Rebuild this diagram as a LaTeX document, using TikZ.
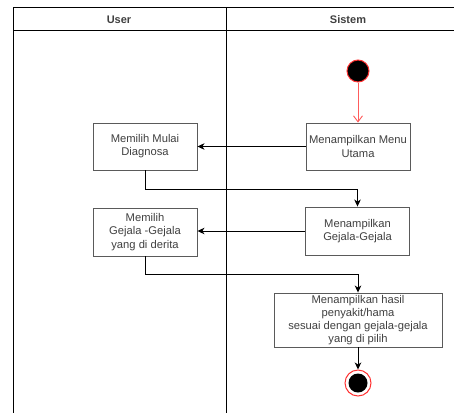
\documentclass[tikz,border=0pt]{standalone}
\usepackage{fontspec}
\setmainfont{Liberation Sans}
\usetikzlibrary{positioning,arrows.meta}

\definecolor{boxline}{HTML}{5A5A5A}
\definecolor{startred}{HTML}{FF3333}

\begin{document}
\begin{tikzpicture}[x=1pt,y=-1pt,
  act/.style={draw=boxline,line width=0.9pt,fill=white,align=center,inner sep=2pt,
    minimum width=104pt,minimum height=47pt,text=black!75,
    font=\fontsize{11.2}{13.2}\selectfont},
  flow/.style={line width=0.9pt,-{Stealth[length=7pt,width=6.5pt,inset=2pt]}},
  lane/.style={line width=1pt}]
\useasboundingbox (0,0) rectangle (454,412);
\clip (0,0) rectangle (454,412);
% swimlanes
\draw[lane] (13,420) -- (13,8) -- (470,8);
\draw[lane] (13,31) -- (470,31);
\draw[lane] (226,8) -- (226,420);
\node[font=\bfseries\fontsize{11}{13}\selectfont,text=black!75] (user) at (119,19.5) {User};
\node[font=\bfseries\fontsize{11}{13}\selectfont,text=black!75] (sistem) at (348,19.5) {Sistem};

\node[circle,fill=black,draw=startred,line width=1pt,minimum size=22pt,inner sep=0pt] (start) at (358,71) {};
\node[act] (menu) at (358,146.5) {Menampilkan Menu\\Utama};
\node[act] (mulai) at (145,146.5) {Memilih Mulai\\Diagnosa};
\node[act,minimum height=48pt] (gejalaS) at (357.5,231) {Menampilkan\\Gejala-Gejala};
\node[act,minimum height=48pt] (gejalaU) at (145,232) {Memilih\\Gejala -Gejala\\yang di derita};
\node[act,minimum width=168pt,minimum height=54pt,inner sep=0pt] (hasil) at (358,320) {Menampilkan hasil\\penyakit/hama\\sesuai dengan gejala-gejala\\yang di pilih};
\node[circle,draw=startred,line width=1pt,fill=white,minimum size=26pt,inner sep=0pt] (end) at (358,383) {};
\node[circle,fill=black,minimum size=19pt,inner sep=0pt] (endin) at (end) {};

\draw[line width=0.9pt,draw=startred!80,-{Straight Barb[length=6pt,width=9pt]}] (start) -- (menu);
\draw[flow] (menu) -- (mulai);
\draw[flow] (mulai.south) -- ++(0,19) -| (gejalaS.north);
\draw[flow] (gejalaS.west) -- (gejalaS.west -| gejalaU.east);
\draw[flow] (gejalaU.south) -- ++(0,18) -| (hasil.north);
\draw[flow] (hasil) -- (end);
\end{tikzpicture}
\end{document}
